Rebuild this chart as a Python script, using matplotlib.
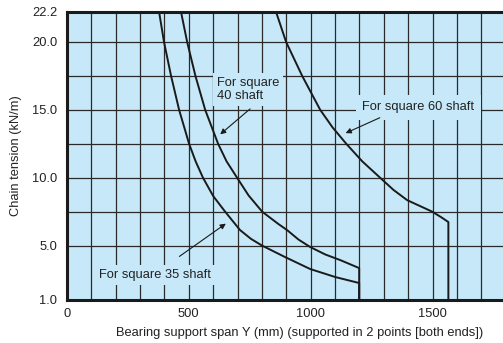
import numpy as np
import matplotlib.pyplot as plt

plt.rcParams['font.family'] = ['Liberation Sans', 'DejaVu Sans']

# curve data (span in mm, tension in kN/m)
x35 = [378, 398, 427, 460, 501, 528, 558, 600, 649, 710, 755, 801, 895, 998, 1101, 1199, 1199]
y35 = [22.2, 20.0, 17.5, 15.0, 12.5, 11.2, 10.0, 8.65, 7.5, 6.15, 5.5, 5.0, 4.16, 3.28, 2.69, 2.25, 1.0]

x40 = [468, 493, 527, 567, 620, 655, 698, 745, 801, 867, 903, 950, 998, 1060, 1121, 1199, 1199]
y40 = [22.2, 20.0, 17.5, 15.0, 12.5, 11.2, 10.0, 8.7, 7.5, 6.6, 6.15, 5.45, 4.9, 4.35, 3.94, 3.35, 1.0]

x60 = [858, 899, 965, 1039, 1090, 1146, 1212, 1285, 1340, 1396, 1499, 1535, 1565, 1565]
y60 = [22.2, 20.0, 17.5, 15.0, 13.7, 12.5, 11.2, 10.0, 9.1, 8.35, 7.5, 7.1, 6.74, 1.0]

xticks = [0, 500, 1000, 1500]
yticks = [1.0, 5.0, 10.0, 15.0, 20.0, 22.2]
xgrid = np.arange(100, 1900, 100)
ygrid = [5.0, 7.5, 10.0, 12.5, 15.0, 17.5, 20.0]

fig = plt.figure(figsize=(5.03, 3.43), dpi=100)
ax = fig.add_axes([67/503, 43/343, 463/503, 288/343])
ax.set_facecolor('#c6e8f8')

for g in xgrid:
    ax.axvline(g, color='#2a2a2a', lw=0.9, zorder=1)
for g in ygrid:
    ax.axhline(g, color='#2a2a2a', lw=0.9, zorder=1)

for xs, ys in [(x35, y35), (x40, y40), (x60, y60)]:
    ax.plot(xs, ys, color='#1a1a1a', lw=1.4, zorder=3)

ax.set_xlim(0, 1900)
ax.set_ylim(1.0, 22.2)
ax.set_xticks(xticks)
ax.set_xticklabels([str(t) for t in xticks])
ax.set_yticks(yticks)
ax.set_yticklabels(['%.1f' % t for t in yticks])
ax.tick_params(length=0, labelsize=9.3, colors='#222222')
ax.tick_params(axis='y', pad=7)
ax.tick_params(axis='x', pad=6)

for s in ['left', 'bottom', 'top']:
    ax.spines[s].set_linewidth(2.2)
    ax.spines[s].set_color('#1a1a1a')
ax.spines['right'].set_visible(False)

ax.set_ylabel('Chain tension (kN/m)', fontsize=9.3, color='#222222', labelpad=7)
fig.text(300/503, 1 - 333/343, 'Bearing support span Y (mm) (supported in 2 points [both ends])',
         fontsize=9.3, color='#222222', ha='center', va='center')

arw = dict(arrowstyle='-|>', color='#1a1a1a', lw=0.8, mutation_scale=8)
ax.text(616, 16.5, 'For square\n40 shaft', fontsize=9.3, color='#222222',
        ha='left', va='center', linespacing=1.1, zorder=4,
        bbox=dict(boxstyle='square,pad=0.3', fc='#c6e8f8', ec='none'))
ax.annotate('', xy=(620, 13.06), xytext=(760, 15.2), arrowprops=arw, zorder=4)
ax.text(1211, 15.2, 'For square 60 shaft', fontsize=9.3, color='#222222',
        ha='left', va='center', zorder=4,
        bbox=dict(boxstyle='square,pad=0.5', fc='#c6e8f8', ec='none'))
ax.annotate('', xy=(1133, 13.2), xytext=(1294, 14.5), arrowprops=arw, zorder=4)
ax.text(131, 2.84, 'For square 35 shaft', fontsize=9.3, color='#222222',
        ha='left', va='center', zorder=4,
        bbox=dict(boxstyle='square,pad=0.3', fc='#c6e8f8', ec='none'))
ax.annotate('', xy=(661, 6.74), xytext=(452, 4.09), arrowprops=arw, zorder=4)

fig.savefig('out.png', dpi=100)
